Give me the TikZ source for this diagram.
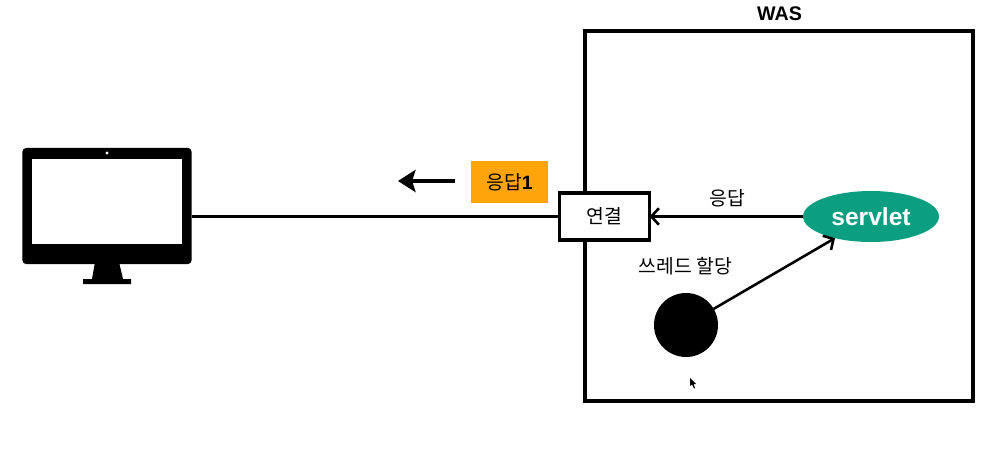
\documentclass[tikz,border=0pt]{standalone}
\usepackage{fontspec}
\setmainfont{Liberation Sans}
\newfontfamily\krfont{Noto Sans CJK KR}
\usetikzlibrary{arrows.meta,shapes.geometric}
\definecolor{servletgreen}{HTML}{0B9E80}
\definecolor{resporange}{HTML}{FFA50A}
\begin{document}
\begin{tikzpicture}[x=0.03cm, y=-0.03cm,
    every node/.style={inner sep=0pt, outer sep=0pt},
    box/.style={draw, line width=2.6pt, fill=white},
    link/.style={line width=2.2pt, -{Straight Barb[length=6.5pt,width=14pt,line width=2.2pt]}},
    label/.style={font=\krfont\fontsize{16.5}{20}\selectfont}]

    \useasboundingbox (0,0) rectangle (1007,449);

    % WAS
    \node[box, minimum width=11.64cm, minimum height=11.1cm] (was) at (779,216) {};
    \node[font=\fontsize{16.8}{20}\selectfont\bfseries] (wasname) at (779.5,14) {WAS};

    % Monitor
    \path[fill=black] (95,262) -- (119,262) -- (123,279) -- (131,279) -- (131,284)
        -- (83,284) -- (83,279) -- (92,279) -- cycle;
    \node[fill=black, rounded corners=3pt, minimum width=5.07cm, minimum height=3.48cm] (monitor) at (107,206) {};
    \node[fill=white, minimum width=4.5cm, minimum height=2.55cm] (screen) at (107,201.5) {};
    \node[fill=white, circle, minimum size=0.1cm] (camera) at (107,153) {};

    % Connection
    \node[box, minimum width=2.7cm, minimum height=1.41cm, label] (conn) at (604.5,216.5) {연결};
    \draw[line width=2.2pt] (monitor.east |- conn.west) -- (conn.west);

    % Response 1
    \node[fill=resporange, minimum width=2.31cm, minimum height=1.26cm, label] (resp) at (509.5,182) {응답\textrm{\bfseries 1}};
    \coordinate (movestart) at (455,181);
    \coordinate (moveend) at (398,181);
    \draw[line width=2.6pt, -{Stealth[length=15pt,width=19pt,inset=3pt]}] (movestart) -- (moveend);

    % Servlet
    \node[ellipse, fill=servletgreen, text=white, minimum width=4.08cm, minimum height=1.53cm,
        font=\fontsize{21}{24}\selectfont\bfseries] (servlet) at (871,216.5) {servlet};
    \draw[link] (servlet.west) -- (conn.east);
    \node[label] (resplabel) at (727.5,198) {응답};

    % Thread
    \node[circle, fill=black, minimum size=1.92cm] (thread) at (686,325) {};
    \draw[link] (thread) -- (servlet.211);
    \node[label] (threadlabel) at (685.5,266) {쓰레드 할당};

    % Mouse pointer
    \fill (690,378) -- (690,386) -- (692,384.5) -- (694,388.5) -- (695,388) -- (693.5,384) -- (696,384) -- cycle;

\end{tikzpicture}
\end{document}
